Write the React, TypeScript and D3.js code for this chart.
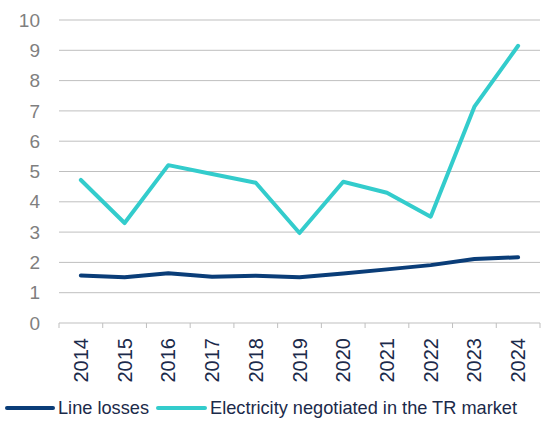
import * as d3 from 'd3';
import React from 'react';

// chart data
const years = ['2014', '2015', '2016', '2017', '2018', '2019', '2020', '2021', '2022', '2023', '2024'];
const lineLosses = [1.57, 1.51, 1.64, 1.53, 1.56, 1.51, 1.63, 1.77, 1.91, 2.11, 2.17];
const electricityTR = [4.72, 3.3, 5.21, 4.92, 4.63, 2.97, 4.66, 4.3, 3.51, 7.14, 9.15];
const yTicks = [0, 1, 2, 3, 4, 5, 6, 7, 8, 9, 10];

const W = 541;
const H = 425;
const m = { left: 59, right: 1, top: 20, bottom: 102 };
const NAVY = '#0a3d78';
const CYAN = '#33cccc';
const FONT = '"Liberation Sans", Arial, sans-serif';

export default function App() {
  const x = d3.scaleBand<string>().domain(years).range([m.left, W - m.right]);
  const y = d3.scaleLinear().domain([0, 10]).range([H - m.bottom, m.top]);
  const line = d3
    .line<number>()
    .x((_, i) => (x(years[i]) as number) + x.bandwidth() / 2)
    .y((d) => y(d));

  const baseY = y(0);
  const tickXs = years.map((yr) => x(yr) as number).concat([W - m.right]);

  return (
    <svg width={W} height={H} style={{ position: 'absolute', left: 0, top: 0 }} fontFamily={FONT}>
      <g>
        {yTicks.slice(1).map((t) => (
          <line key={t} x1={m.left} x2={W - m.right} y1={y(t)} y2={y(t)} stroke="#bfbfbf" strokeWidth={1} />
        ))}
        {yTicks.map((t) => (
          <text key={t} x={40} y={y(t)} dy="0.35em" textAnchor="end" fontSize={19} fill="#7f7f7f">
            {t}
          </text>
        ))}
      </g>
      <line x1={m.left} x2={W - m.right} y1={baseY} y2={baseY} stroke="#bfbfbf" strokeWidth={1} />
      {tickXs.map((tx, i) => (
        <line key={i} x1={tx} x2={tx} y1={baseY} y2={baseY + 5} stroke="#bfbfbf" strokeWidth={1} />
      ))}
      {years.map((yr) => {
        const cx = (x(yr) as number) + x.bandwidth() / 2;
        return (
          <text
            key={yr}
            transform={`translate(${cx},${baseY + 15}) rotate(-90)`}
            textAnchor="end"
            dy="0.35em"
            fontSize={20}
            fill="#1b2a4a"
          >
            {yr}
          </text>
        );
      })}
      <path d={line(lineLosses) || ''} fill="none" stroke={NAVY} strokeWidth={4} strokeLinejoin="round" strokeLinecap="round" />
      <path d={line(electricityTR) || ''} fill="none" stroke={CYAN} strokeWidth={4} strokeLinejoin="round" strokeLinecap="round" />
      <g transform="translate(0,414)">
        <line x1={7} x2={53} y1={-6} y2={-6} stroke={NAVY} strokeWidth={4} strokeLinecap="round" />
        <text x={58} y={0} fontSize={18.2} fill="#1b2a4a">
          Line losses
        </text>
        <line x1={158} x2={205} y1={-6} y2={-6} stroke={CYAN} strokeWidth={4} strokeLinecap="round" />
        <text x={210} y={0} fontSize={18.2} fill="#1b2a4a">
          Electricity negotiated in the TR market
        </text>
      </g>
    </svg>
  );
}
